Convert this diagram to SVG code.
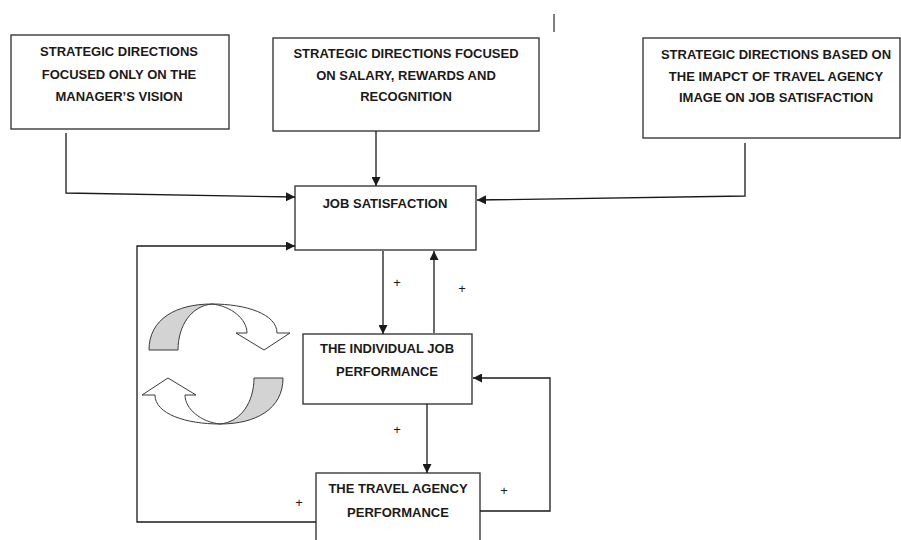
<svg xmlns="http://www.w3.org/2000/svg" width="901" height="540" viewBox="0 0 901 540">
<defs>
<style>
.box{fill:#fff;stroke:#3a3a3a;stroke-width:1.4}
.lbl{font-family:"Liberation Sans",Arial,sans-serif;font-weight:bold;font-size:13px;fill:#1a1a1a;text-anchor:middle}
.plus{font-family:"Liberation Sans",Arial,sans-serif;font-size:13px;fill:#1a1a1a;text-anchor:middle}
.con{fill:none;stroke:#1a1a1a;stroke-width:1.3}
.grey{fill:#d3d3d3;stroke:#3a3a3a;stroke-width:1}
.white{fill:#fff;stroke:#3a3a3a;stroke-width:1}
</style>
<marker id="ah" markerUnits="userSpaceOnUse" markerWidth="10" markerHeight="9" refX="9" refY="4.5" orient="auto">
<path d="M0,0 L9,4.5 L0,9 Z" fill="#1a1a1a"/>
</marker>
<g id="circ">
<path class="white" d="M -4,-60 C 30,-60 61,-50 61,-31 L 74,-31 L 48,-14 L 20,-31 L 31,-31 C 31,-45 15,-58 -4,-60 Z"/>
<path class="grey" d="M -67,-14 C -67,-45 -40,-60 -4,-60 C -25,-58 -38,-38 -38,-14 Z"/>
</g>
</defs>
<rect width="901" height="540" fill="#fff"/>
<line x1="554" y1="14" x2="554" y2="32" stroke="#3a3a3a" stroke-width="1.3"/>

<g id="node-manager">
<rect class="box" x="11" y="35" width="218" height="94"/>
<text class="lbl" x="119" y="56">STRATEGIC DIRECTIONS</text>
<text class="lbl" x="119" y="78.5">FOCUSED ONLY ON THE</text>
<text class="lbl" x="119" y="101">MANAGER’S VISION</text>
</g>
<g id="node-salary">
<rect class="box" x="273" y="38" width="266" height="93"/>
<text class="lbl" x="406" y="58">STRATEGIC DIRECTIONS FOCUSED</text>
<text class="lbl" x="406" y="79.5">ON SALARY, REWARDS AND</text>
<text class="lbl" x="406" y="101">RECOGNITION</text>
</g>
<g id="node-image">
<rect class="box" x="643" y="38" width="257" height="100"/>
<text class="lbl" x="776" y="59">STRATEGIC DIRECTIONS BASED ON</text>
<text class="lbl" x="776" y="80.5">THE IMAPCT OF TRAVEL AGENCY</text>
<text class="lbl" x="776" y="102">IMAGE ON JOB SATISFACTION</text>
</g>
<g id="node-job">
<rect class="box" x="295" y="186" width="181" height="64"/>
<text class="lbl" x="385" y="208">JOB SATISFACTION</text>
</g>
<g id="node-individual">
<rect class="box" x="303" y="334" width="169" height="70"/>
<text class="lbl" x="387" y="353">THE INDIVIDUAL JOB</text>
<text class="lbl" x="387" y="376">PERFORMANCE</text>
</g>
<g id="node-travel">
<rect class="box" x="316" y="473" width="164" height="90"/>
<text class="lbl" x="398" y="493">THE TRAVEL AGENCY</text>
<text class="lbl" x="398" y="517">PERFORMANCE</text>
</g>

<g id="cycle-arrows">
<use href="#circ" transform="translate(216,364)"/>
<use href="#circ" transform="translate(216,364) rotate(180)"/>
</g>

<g id="connectors">
<polyline class="con" points="66,133 66,193 295,197" marker-end="url(#ah)"/>
<line class="con" x1="376" y1="131" x2="376" y2="186" marker-end="url(#ah)"/>
<polyline class="con" points="745,143 745,196 477,200" marker-end="url(#ah)"/>
<line class="con" x1="383" y1="251" x2="383" y2="334" marker-end="url(#ah)"/>
<line class="con" x1="434" y1="333" x2="434" y2="251" marker-end="url(#ah)"/>
<line class="con" x1="427" y1="404" x2="427" y2="473" marker-end="url(#ah)"/>
<polyline class="con" points="480,511 550,511 550,378 473,378" marker-end="url(#ah)"/>
<polyline class="con" points="316,522 137,522 137,246 295,246" marker-end="url(#ah)"/>
<text class="plus" x="397" y="287">+</text>
<text class="plus" x="462" y="293">+</text>
<text class="plus" x="397" y="434">+</text>
<text class="plus" x="504" y="495">+</text>
<text class="plus" x="299" y="507">+</text>
</g>
</svg>
